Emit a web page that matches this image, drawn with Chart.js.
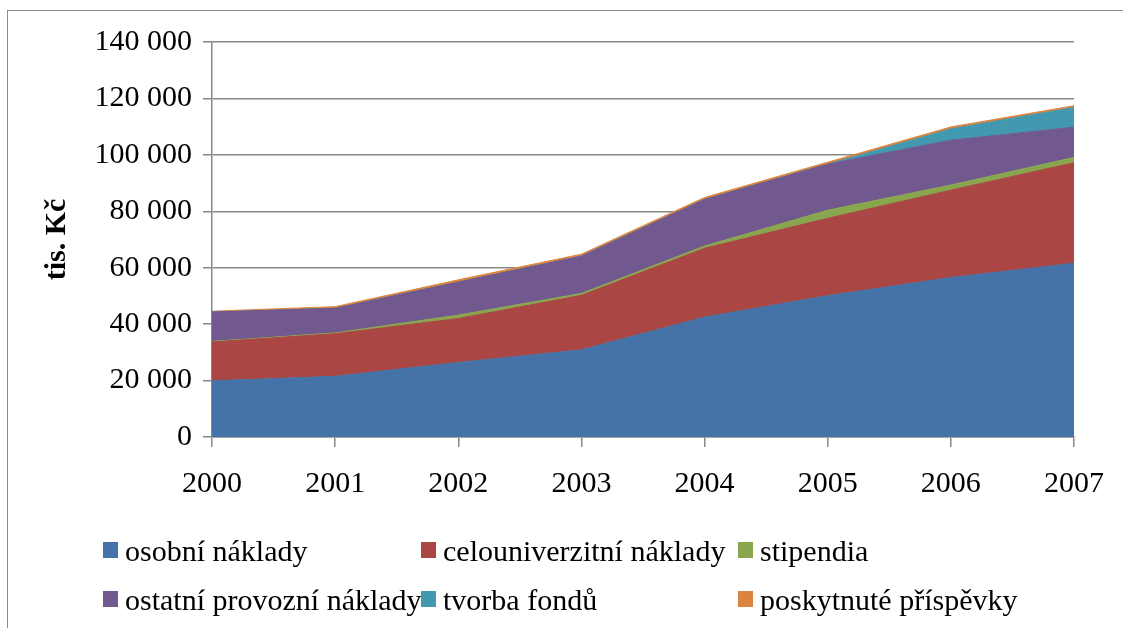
<!DOCTYPE html>
<html>
<head>
<meta charset="utf-8">
<script src="https://cdn.jsdelivr.net/npm/chart.js@4"></script>
<style>
    html, body {
        margin: 0;
        padding: 0;
        background: #ffffff;
        overflow: hidden;
    }

    #wrap {
        position: relative;
        width: 1123px;
        height: 628px;
        overflow: hidden;
    }

    #frame {
        position: absolute;
        left: 7px;
        top: 10px;
        width: 1140px;
        height: 640px;
        border: 1px solid #8a8a8a;
        box-sizing: border-box;
        pointer-events: none;
    }
</style>
</head>
<body>
<div id="wrap">
    <canvas id="areaChart" width="1123" height="628"></canvas>
    <div id="frame"></div>
</div>

<script>
// ==========================
// DATA
// ==========================

const years = ["2000", "2001", "2002", "2003", "2004", "2005", "2006", "2007"];

const osobniNaklady = [19900, 21500, 26400, 30900, 42500, 50100, 56500, 61600];
const celouniverzitniNaklady = [13800, 15100, 15600, 19300, 24400, 27400, 31000, 35600];
const stipendia = [200, 300, 1200, 700, 800, 2900, 1800, 1900];
const ostatniProvozniNaklady = [10400, 8700, 11700, 13200, 16500, 16300, 15900, 10700];
const tvorbaFondu = [0, 0, 0, 0, 0, 0, 4000, 7000];
const poskytnutePrispevky = [300, 600, 800, 700, 700, 700, 700, 600];

const seriesNames = [
    "osobní náklady",
    "celouniverzitní náklady",
    "stipendia",
    "ostatní provozní náklady",
    "tvorba fondů",
    "poskytnuté příspěvky"
];

const seriesColors = ["#4572A7", "#AA4643", "#89A54E", "#71588F", "#4198AF", "#DB843D"];

const yTicks = [0, 20000, 40000, 60000, 80000, 100000, 120000, 140000];

const FONT = "'Liberation Serif', 'Times New Roman', serif";
const GRID = "#888888";


// ==========================
// HELPERS
// ==========================

function formatThousands(v) {
    return String(v).replace(/\B(?=(\d{3})+(?!\d))/g, " ");
}

const seriesValues = [
    osobniNaklady,
    celouniverzitniNaklady,
    stipendia,
    ostatniProvozniNaklady,
    tvorbaFondu,
    poskytnutePrispevky
];

const datasets = seriesValues.map((values, i) => ({
    label: seriesNames[i],
    data: values,
    backgroundColor: seriesColors[i],
    borderColor: seriesColors[i],
    borderWidth: 1,
    pointRadius: 0,
    tension: 0,
    fill: i === 0 ? "origin" : "-1"
}));


// ==========================
// LEGEND (excel-like grid)
// ==========================

const gridLegend = {
    id: "gridLegend",
    afterDraw(chart) {
        const ctx = chart.ctx;
        const colX = [103, 421, 738];
        const rowY = [550, 599];

        ctx.save();
        ctx.font = "30px " + FONT;
        ctx.textBaseline = "alphabetic";
        ctx.textAlign = "left";

        chart.data.datasets.forEach((ds, i) => {
            const x = colX[i % 3];
            const y = rowY[Math.floor(i / 3)];

            ctx.fillStyle = ds.backgroundColor;
            ctx.fillRect(x, y - 8, 15, 16);

            ctx.fillStyle = "#000000";
            ctx.fillText(ds.label, x + 22, y + 11);
        });

        ctx.restore();
    }
};


// ==========================
// STACKED AREA CHART
// ==========================

const ctx = document.getElementById("areaChart");

new Chart(ctx, {
    type: "line",
    data: {
        labels: years,
        datasets: datasets
    },
    options: {
        responsive: false,
        animation: false,
        layout: {
            padding: { left: 0, top: 42, right: 46, bottom: 111 }
        },
        plugins: {
            legend: { display: false },
            tooltip: { enabled: false }
        },
        scales: {
            x: {
                offset: false,
                grid: {
                    drawOnChartArea: false,
                    drawTicks: true,
                    tickLength: 10,
                    color: GRID,
                    lineWidth: 1.5
                },
                border: { color: GRID, width: 1.5 },
                ticks: {
                    color: "#000000",
                    padding: 19,
                    maxRotation: 0,
                    font: { family: FONT, size: 30 }
                },
                afterFit(scale) {
                    scale.height = 80;
                }
            },
            y: {
                stacked: true,
                min: 0,
                max: 140000,
                afterBuildTicks(scale) {
                    scale.ticks = yTicks.map(v => ({ value: v }));
                },
                grid: {
                    color: GRID,
                    lineWidth: 1.5,
                    tickLength: 9
                },
                border: { color: GRID, width: 1.5 },
                ticks: {
                    color: "#000000",
                    padding: 11,
                    font: { family: FONT, size: 30 },
                    callback: v => formatThousands(v)
                },
                title: {
                    display: true,
                    text: "tis. Kč",
                    color: "#000000",
                    padding: { top: 39, bottom: 0 },
                    font: { family: FONT, size: 30, weight: "bold" }
                },
                afterFit(scale) {
                    scale.width = 212;
                }
            }
        }
    },
    plugins: [gridLegend]
});
</script>
</body>
</html>
